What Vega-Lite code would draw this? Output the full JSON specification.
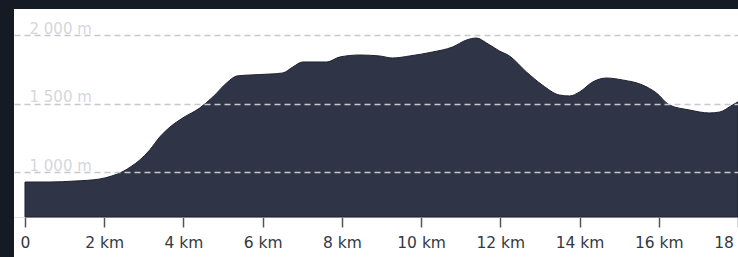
{
  "$schema": "https://vega.github.io/schema/vega-lite/v6.json",
  "width": 724,
  "height": 248,
  "autosize": {"type": "none"},
  "padding": {"left": 14, "top": 9, "right": 0, "bottom": 0},
  "background": "#141b25",
  "config": {"view": {"fill": "white", "stroke": null}},
  "data": {"values": [
    {"km": 0, "ele": 927}, {"km": 0.63, "ele": 927}, {"km": 1.26, "ele": 934}, {"km": 1.89, "ele": 949},
    {"km": 2.19, "ele": 971}, {"km": 2.45, "ele": 1000}, {"km": 2.70, "ele": 1044}, {"km": 2.90, "ele": 1088},
    {"km": 3.15, "ele": 1161}, {"km": 3.40, "ele": 1255}, {"km": 3.66, "ele": 1328}, {"km": 3.98, "ele": 1394},
    {"km": 4.41, "ele": 1467}, {"km": 4.74, "ele": 1547}, {"km": 5.09, "ele": 1650}, {"km": 5.35, "ele": 1701},
    {"km": 5.67, "ele": 1708}, {"km": 6.18, "ele": 1715}, {"km": 6.51, "ele": 1723}, {"km": 6.76, "ele": 1766},
    {"km": 7.01, "ele": 1803}, {"km": 7.62, "ele": 1803}, {"km": 7.94, "ele": 1839}, {"km": 8.45, "ele": 1854},
    {"km": 8.95, "ele": 1847}, {"km": 9.28, "ele": 1832}, {"km": 9.71, "ele": 1847}, {"km": 10.29, "ele": 1876},
    {"km": 10.79, "ele": 1912}, {"km": 11.15, "ele": 1964}, {"km": 11.40, "ele": 1978}, {"km": 11.65, "ele": 1942},
    {"km": 11.98, "ele": 1883}, {"km": 12.23, "ele": 1847}, {"km": 12.66, "ele": 1730}, {"km": 13.06, "ele": 1635},
    {"km": 13.49, "ele": 1562}, {"km": 13.75, "ele": 1555}, {"km": 14.00, "ele": 1584}, {"km": 14.33, "ele": 1657},
    {"km": 14.68, "ele": 1686}, {"km": 15.08, "ele": 1672}, {"km": 15.59, "ele": 1635}, {"km": 15.94, "ele": 1577},
    {"km": 16.27, "ele": 1489}, {"km": 16.77, "ele": 1453}, {"km": 17.28, "ele": 1431}, {"km": 17.54, "ele": 1438},
    {"km": 17.86, "ele": 1489}, {"km": 18.0, "ele": 1512}
  ]},
  "mark": {"type": "area", "color": "#2f3547", "stroke": "#1e2230", "strokeWidth": 1, "interpolate": "monotone", "clip": true},
  "encoding": {
    "x": {
      "field": "km", "type": "quantitative",
      "scale": {"domain": [-0.2774, 18.0], "nice": false, "zero": false},
      "axis": {
        "title": null, "values": [0, 2, 4, 6, 8, 10, 12, 14, 16, 18],
        "labelExpr": "datum.value == 0 ? '0' : datum.value + ' km'",
        "offset": -40, "grid": false,
        "domain": true, "domainColor": "#e2e2e2", "domainWidth": 1,
        "ticks": true, "tickColor": "#555555", "tickSize": 10, "tickWidth": 1.5,
        "labelPadding": 8, "labelFont": "DejaVu Sans", "labelFontSize": 15.5, "labelColor": "#333a44",
        "labelBaseline": "top", "labelFlush": false, "labelOverlap": false
      }
    },
    "y": {
      "field": "ele", "type": "quantitative",
      "scale": {"domain": [379.6, 2189.8], "nice": false, "zero": false},
      "axis": {
        "title": null, "values": [1000, 1500, 2000],
        "labelExpr": "replace(format(datum.value, ','), ',', ' ') + ' m'",
        "grid": true, "gridDash": [6, 4], "gridColor": "#c8c8cc", "gridWidth": 1.5,
        "domain": false, "ticks": false, "tickSize": 0,
        "labelAlign": "left", "labelPadding": -15, "labelBaseline": "middle", "labelOffset": -7,
        "labelFont": "DejaVu Sans", "labelFontSize": 15, "labelColor": "#d6d6da",
        "zindex": 1
      }
    },
    "y2": {"datum": 671.5}
  }
}
